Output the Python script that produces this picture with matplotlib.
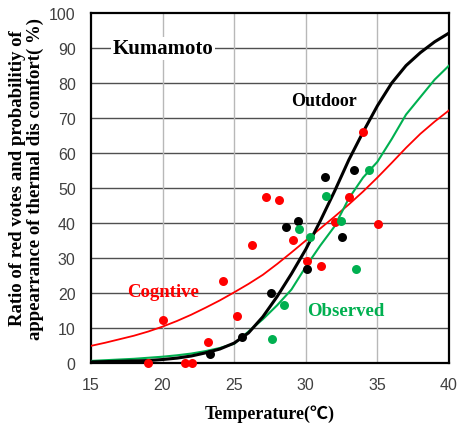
import matplotlib
matplotlib.use("Agg")
import matplotlib.pyplot as plt

# scatter data
red_t = [18.96, 21.56, 22.03, 20.05, 23.2, 24.24, 25.2, 26.22, 27.2, 28.13,
         29.08, 30.06, 31.04, 32.04, 33.02, 34.0, 35.02]
red_v = [0, 0, 0, 12.3, 6.1, 23.5, 13.5, 33.7, 47.4, 46.5,
         35.2, 29.2, 27.6, 40.3, 47.5, 66.1, 39.7]

black_t = [23.29, 25.54, 27.57, 28.64, 29.48, 30.11, 31.34, 32.55, 33.37]
black_v = [2.5, 7.3, 20.1, 39.0, 40.6, 26.8, 53.3, 36.0, 55.1]

green_t = [27.62, 28.45, 29.55, 30.29, 31.39, 32.48, 33.48, 34.39]
green_v = [6.9, 16.6, 38.4, 36.0, 47.8, 40.7, 26.9, 55.1]

# fitted curves, read at every degree
curve_t = list(range(15, 41))
outdoor_curve = [0.3, 0.4, 0.5, 0.6, 0.7, 1.0, 1.4, 2.0, 2.9, 4.0, 5.7, 8.6, 13.2,
                 19.0, 25.5, 32.5, 40.5, 49, 58, 66, 73.5, 80, 85, 88.7, 91.8, 94.3]
observed_curve = [0.6, 0.8, 1.0, 1.2, 1.5, 1.8, 2.2, 2.7, 3.4, 4.3, 5.5, 9, 12.5,
                  16.5, 21, 27.5, 33.5, 39, 47, 53, 57.5, 64, 71, 76, 81, 85]
cognitive_curve = [4.9, 5.8, 6.8, 7.8, 9.0, 10.4, 12.0, 13.8, 15.8, 17.9, 20.2, 22.6,
                   25.2, 28.3, 31.6, 35.0, 38.4, 41.8, 45.3, 49.0, 53.0, 57.2, 61.5,
                   65.5, 69.0, 72.2]

RED = "#ff0000"
GREEN = "#00b050"
serif = ["Liberation Serif", "DejaVu Serif"]
serif_cjk = ["Liberation Serif", "Noto Sans CJK JP", "DejaVu Serif"]

fig = plt.figure(figsize=(4.57, 4.27), dpi=100)
ax = fig.add_axes([0.199, 0.1475, 0.7835, 0.8195])

ax.plot(curve_t, cognitive_curve, color=RED, linewidth=1.3, zorder=3)
ax.plot(curve_t, observed_curve, color=GREEN, linewidth=1.5, zorder=3)
ax.plot(curve_t, outdoor_curve, color="black", linewidth=2.2, zorder=4)

ax.scatter(red_t, red_v, s=42, color=RED, zorder=5, clip_on=False, linewidths=0)
ax.scatter(black_t, black_v, s=42, color="black", zorder=5, clip_on=False, linewidths=0)
ax.scatter(green_t, green_v, s=42, color=GREEN, zorder=5, clip_on=False, linewidths=0)

ax.set_xlim(15, 40)
ax.set_ylim(0, 100)
ax.set_xticks(range(15, 41, 5))
ax.set_yticks(range(0, 101, 10))
ax.tick_params(length=0, labelsize=11.5, labelcolor="#404040")
ax.tick_params(axis="y", pad=11)
ax.tick_params(axis="x", pad=10)
for lab in ax.get_xticklabels() + ax.get_yticklabels():
    lab.set_family(["Liberation Sans", "DejaVu Sans"])

for y in range(10, 100, 10):
    ax.axhline(y, color="#505050", linewidth=1.0, zorder=1)
for x in range(20, 40, 5):
    ax.axvline(x, color="#b8b8b8", linewidth=1.0, zorder=1)
for s in ax.spines.values():
    s.set_linewidth(1.6)
    s.set_color("black")

bg = dict(facecolor="white", edgecolor="none", pad=1)
ax.text(16.5, 90, "Kumamoto", fontsize=15, fontweight="bold", family=serif,
        va="center", ha="left", bbox=bg, zorder=2)
ax.text(29.0, 75, "Outdoor", fontsize=13, fontweight="bold", family=serif,
        va="center", ha="left", zorder=2)
ax.text(17.5, 20.5, "Cogntive", fontsize=13.5, fontweight="bold", family=serif,
        color=RED, va="center", ha="left", zorder=2)
ax.text(30.1, 15, "Observed", fontsize=13.5, fontweight="bold", family=serif,
        color=GREEN, va="center", ha="left", zorder=2)

ax.set_xlabel("Temperature(℃)", fontsize=13, fontweight="bold",
              family=serif_cjk, labelpad=9)
ax.set_ylabel("Ratio of red votes and probabilitiy of\nappearrance of thermal dis comfort( %)",
              fontsize=13.5, fontweight="bold", family=serif,
              linespacing=1.05)
ax.yaxis.set_label_coords(-0.13, 0.53)

fig.savefig("out.png", dpi=100)
